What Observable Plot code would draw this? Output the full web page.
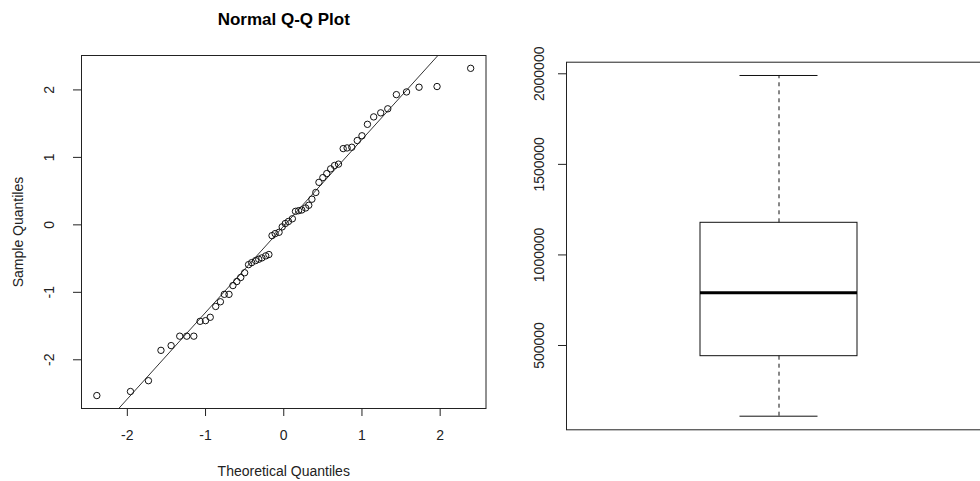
<!DOCTYPE html>
<html>
<head>
<meta charset="utf-8">
<script src="https://cdn.jsdelivr.net/npm/d3@7"></script>
<script src="https://cdn.jsdelivr.net/npm/@observablehq/plot@0.6"></script>
<style>
  html, body { margin: 0; padding: 0; background: #fff; }
  #wrap { position: relative; width: 980px; height: 481px; overflow: hidden; background: #fff; }
  #left { position: absolute; left: 0; top: 0; width: 500px; height: 481px; }
  #right { position: absolute; left: 520px; top: 0; width: 480px; height: 481px; }
  #left svg, #right svg { max-width: none !important; }
</style>
</head>
<body>
<div id="wrap"><div id="left"></div><div id="right"></div></div>
<script>
// ---- Q-Q plot data ----
const qqTheoretical = [-2.39,-1.96,-1.73,-1.57,-1.44,-1.33,-1.24,-1.15,-1.07,-1.00,
  -0.94,-0.87,-0.81,-0.76,-0.70,-0.65,-0.60,-0.55,-0.50,-0.45,
  -0.41,-0.36,-0.32,-0.28,-0.23,-0.19,-0.15,-0.11,-0.06,-0.02,
  0.02,0.06,0.11,0.15,0.19,0.23,0.28,0.32,0.36,0.41,
  0.45,0.50,0.55,0.60,0.65,0.70,0.76,0.81,0.87,0.94,
  1.00,1.07,1.15,1.24,1.33,1.44,1.57,1.73,1.96,2.39];
const qqSample = [-2.53,-2.47,-2.31,-1.86,-1.79,-1.65,-1.65,-1.65,-1.43,-1.42,
  -1.37,-1.21,-1.14,-1.03,-1.03,-0.90,-0.84,-0.78,-0.71,-0.59,
  -0.56,-0.53,-0.51,-0.49,-0.46,-0.44,-0.16,-0.13,-0.11,-0.03,
  0.02,0.05,0.09,0.20,0.21,0.22,0.25,0.29,0.38,0.48,
  0.63,0.70,0.76,0.83,0.88,0.90,1.13,1.14,1.15,1.25,
  1.32,1.49,1.60,1.66,1.72,1.93,1.97,2.04,2.05,2.32];
const qqLineIntercept = -0.017;
const qqLineSlope = 1.282;
const qqXTicks = [-2, -1, 0, 1, 2];
const qqYTicks = [-2, -1, 0, 1, 2];
const qqTitle = "Normal Q-Q Plot";
const qqXLabel = "Theoretical Quantiles";
const qqYLabel = "Sample Quantiles";

// ---- Box plot data ----
const boxMin = 109700;
const boxQ1 = 441000;
const boxMedian = 790900;
const boxQ3 = 1177400;
const boxMax = 1990600;
const boxTicks = [500000, 1000000, 1500000, 2000000];

// ---- build tables ----
const points = qqTheoretical.map((x, i) => ({x, y: qqSample[i]}));
const xDom = [-2.586, 2.586];
const lineData = xDom.map(x => ({x, y: qqLineIntercept + qqLineSlope * x}));
const font = "'Liberation Sans', Arial, Helvetica, sans-serif";

const left = Plot.plot({
  width: 500, height: 481,
  marginLeft: 81, marginRight: 14.5, marginTop: 55, marginBottom: 73,
  x: {domain: xDom},
  y: {domain: [-2.722, 2.51]},
  style: {fontFamily: font, fontSize: "14px", color: "#222", background: "#fff", overflow: "visible"},
  marks: [
    Plot.line(lineData, {x: "x", y: "y", stroke: "#333", strokeWidth: 1, clip: true}),
    Plot.dot(points, {x: "x", y: "y", r: 3.2, stroke: "#111", fill: "none", strokeWidth: 1}),
    Plot.frame({stroke: "#222", strokeWidth: 1}),
    Plot.axisX({ticks: qqXTicks, tickSize: 8, tickFormat: () => "", label: null, stroke: "#222"}),
    Plot.axisY({ticks: qqYTicks, tickSize: 8, tickFormat: () => "", label: null, stroke: "#222"}),
    Plot.text(qqXTicks, {x: d => d, text: d => String(d), frameAnchor: "bottom", dy: 27, textAnchor: "middle", lineAnchor: "middle", fill: "#222"}),
    Plot.text(qqYTicks, {y: d => d, text: d => String(d), frameAnchor: "left", dx: -32, rotate: -90, textAnchor: "middle", lineAnchor: "middle", fill: "#222"}),
    Plot.text([qqTitle], {text: d => d, frameAnchor: "top", dy: -36, textAnchor: "middle", lineAnchor: "middle", fontWeight: "bold", fontSize: 17, fill: "#000"}),
    Plot.text([qqXLabel], {text: d => d, frameAnchor: "bottom", dy: 63, textAnchor: "middle", lineAnchor: "middle", fill: "#222"}),
    Plot.text([qqYLabel], {text: d => d, frameAnchor: "left", dx: -63, rotate: -90, textAnchor: "middle", lineAnchor: "middle", fill: "#222"})
  ]
});
document.getElementById("left").appendChild(left);

const boxRow = [{pos: 1, min: boxMin, q1: boxQ1, median: boxMedian, q3: boxQ3, max: boxMax}];
const boxHalf = 0.1847, stapleHalf = 0.0918;

const right = Plot.plot({
  width: 480, height: 481,
  marginLeft: 46, marginRight: 9, marginTop: 61.7, marginBottom: 51.7,
  x: {domain: [0.5, 1.5], axis: null},
  y: {domain: [34600, 2064000]},
  style: {fontFamily: font, fontSize: "14px", color: "#222", background: "#fff", overflow: "visible"},
  marks: [
    Plot.ruleX(boxRow, {x: "pos", y1: "q3", y2: "max", stroke: "#111", strokeDasharray: "4,4"}),
    Plot.ruleX(boxRow, {x: "pos", y1: "min", y2: "q1", stroke: "#111", strokeDasharray: "4,4"}),
    Plot.ruleY(boxRow, {y: "max", x1: d => d.pos - stapleHalf, x2: d => d.pos + stapleHalf, stroke: "#111"}),
    Plot.ruleY(boxRow, {y: "min", x1: d => d.pos - stapleHalf, x2: d => d.pos + stapleHalf, stroke: "#111"}),
    Plot.rect(boxRow, {x1: d => d.pos - boxHalf, x2: d => d.pos + boxHalf, y1: "q1", y2: "q3", fill: "none", stroke: "#111", strokeWidth: 1}),
    Plot.ruleY(boxRow, {y: "median", x1: d => d.pos - boxHalf, x2: d => d.pos + boxHalf, stroke: "#000", strokeWidth: 3}),
    Plot.frame({stroke: "#222", strokeWidth: 1}),
    Plot.axisY({ticks: boxTicks, tickSize: 8, tickFormat: () => "", label: null, stroke: "#222"}),
    Plot.text(boxTicks, {y: d => d, text: d => String(d), frameAnchor: "left", dx: -27, rotate: -90, textAnchor: "middle", lineAnchor: "middle", fill: "#222"})
  ]
});
document.getElementById("right").appendChild(right);
</script>
</body>
</html>
